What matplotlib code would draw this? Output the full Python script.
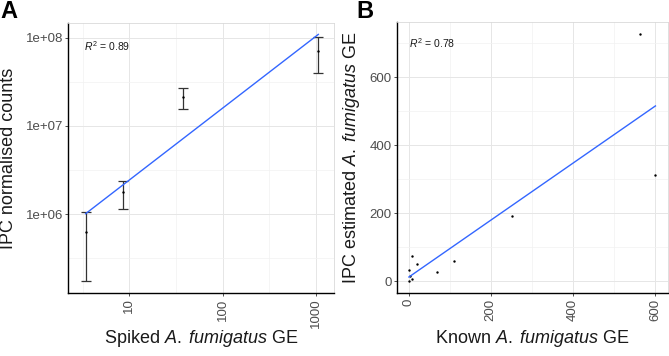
import numpy as np
import matplotlib
matplotlib.use("Agg")
import matplotlib.pyplot as plt

plt.rcParams['font.family'] = ['Liberation Sans', 'DejaVu Sans']
plt.rcParams['mathtext.fontset'] = 'custom'
plt.rcParams['mathtext.rm'] = 'Liberation Sans'
plt.rcParams['mathtext.it'] = 'Liberation Sans:italic'

# Panel A: spiked GE vs IPC normalised counts (mean with error bars)
spiked_ge = [3.4, 8.6, 37.3, 1059]
ipc_mean = [6.2e5, 1.79e6, 2.15e7, 7.1e7]
ipc_low = [1.74e5, 1.13e6, 1.57e7, 3.95e7]
ipc_high = [1.06e6, 2.38e6, 2.72e7, 1.03e8]
r2_a = "0.89"

# Panel B: known GE vs IPC estimated GE
known_ge = [0.7, 2.4, 7.3, 0.7, 8.0, 19.5, 68.9, 110.2, 251.3, 562.8, 601]
est_ge = [32.4, 15.6, 5.9, 0.9, 74.4, 49.0, 27.4, 59.7, 190.3, 726.5, 311.8]
r2_b = "0.78"

blue = '#3366FF'
grid_major = '#E6E6E6'
grid_minor = '#F2F2F2'
tick_col = '#4D4D4D'
title_col = '#1A1A1A'


def style(ax):
    for s in ['top', 'right']:
        ax.spines[s].set_color('#D9D9D9')
        ax.spines[s].set_linewidth(0.6)
    for s in ['left', 'bottom']:
        ax.spines[s].set_color('black')
        ax.spines[s].set_linewidth(1.0)
    ax.tick_params(axis='both', which='major', length=2, width=0.6,
                   color='#333333', labelcolor=tick_col, labelsize=9.5)
    ax.tick_params(axis='x', labelrotation=90, pad=2)
    ax.tick_params(axis='y', pad=1.5)
    ax.tick_params(which='minor', length=0)
    ax.grid(True, which='major', color=grid_major, lw=0.7)
    ax.grid(True, which='minor', color=grid_minor, lw=0.5)
    ax.set_axisbelow(True)


fig = plt.figure(figsize=(6.69, 3.56), dpi=100)

# ---- Panel A ----
ax1 = fig.add_axes([0.1016, 0.177, 0.3977, 0.758])
ax1.set_xscale('log')
ax1.set_yscale('log')
ax1.set_xlim(2.2, 1560)
ax1.set_ylim(10 ** 5.105, 10 ** 8.166)
ax1.set_xticks([10, 100, 1000])
ax1.set_xticklabels(['10', '100', '1000'])
ax1.set_yticks([1e6, 1e7, 1e8])
ax1.set_yticklabels(['1e+06', '1e+07', '1e+08'])
ax1.set_xticks([10 ** 0.5, 10 ** 1.5, 10 ** 2.5], minor=True)
ax1.set_yticks([10 ** 5.5, 10 ** 6.5, 10 ** 7.5], minor=True)
ax1.xaxis.set_minor_formatter(matplotlib.ticker.NullFormatter())
ax1.yaxis.set_minor_formatter(matplotlib.ticker.NullFormatter())
style(ax1)

x = np.array(spiked_ge)
y = np.array(ipc_mean)
yerr = [y - np.array(ipc_low), np.array(ipc_high) - y]
ax1.errorbar(x, y, yerr=yerr, fmt='none', ecolor='#333333', elinewidth=0.9,
             capsize=3.8, capthick=0.9, zorder=3)
ax1.scatter(x, y, s=3, color='black', zorder=4, linewidths=0)

lx, ly = np.log10(x), np.log10(y)
k, b = np.polyfit(lx, ly, 1)
fx = np.array([lx.min(), lx.max()])
ax1.plot(10 ** fx, 10 ** (k * fx + b), color=blue, lw=1.0, zorder=5)

ax1.text(0.06, 0.915, r'$\it{R}^2$ = ' + r2_a, transform=ax1.transAxes,
         fontsize=7.5, ha='left', va='center', color=title_col)
ax1.set_xlabel(r'Spiked $\it{A.\;fumigatus}$ GE', fontsize=13,
               color=title_col, va='center')
ax1.set_ylabel('IPC normalised counts', fontsize=13, color=title_col,
               va='center')
ax1.xaxis.set_label_coords(0.5, -0.170)
ax1.yaxis.set_label_coords(-0.225, 0.5)

# ---- Panel B ----
ax2 = fig.add_axes([0.593, 0.176, 0.4055, 0.763])
ax2.set_xlim(-29, 631.6)
ax2.set_ylim(-36, 762.6)
ax2.set_xticks([0, 200, 400, 600])
ax2.set_yticks([0, 200, 400, 600])
ax2.set_xticks([100, 300, 500], minor=True)
ax2.set_yticks([100, 300, 500, 700], minor=True)
style(ax2)

xb = np.array(known_ge)
yb = np.array(est_ge)
ax2.scatter(xb, yb, s=3, color='black', zorder=4, linewidths=0)
k2, b2 = np.polyfit(xb, yb, 1)
fx2 = np.array([xb.min(), xb.max()])
ax2.plot(fx2, k2 * fx2 + b2, color=blue, lw=1.0, zorder=5)

ax2.text(0.044, 0.92, r'$\it{R}^2$ = ' + r2_b, transform=ax2.transAxes,
         fontsize=7.5, ha='left', va='center', color=title_col)
ax2.set_xlabel(r'Known $\it{A.\;fumigatus}$ GE', fontsize=13,
               color=title_col, va='center')
ax2.set_ylabel(r'IPC estimated $\it{A.\;fumigatus}$ GE', fontsize=13,
               color=title_col, va='center')
ax2.xaxis.set_label_coords(0.5, -0.165)
ax2.yaxis.set_label_coords(-0.165, 0.5)

fig.text(0.0, 1.0, 'A', fontsize=17, fontweight='bold', ha='left', va='top')
fig.text(0.532, 1.0, 'B', fontsize=17, fontweight='bold', ha='left', va='top')

fig.savefig('out.png', dpi=100)
